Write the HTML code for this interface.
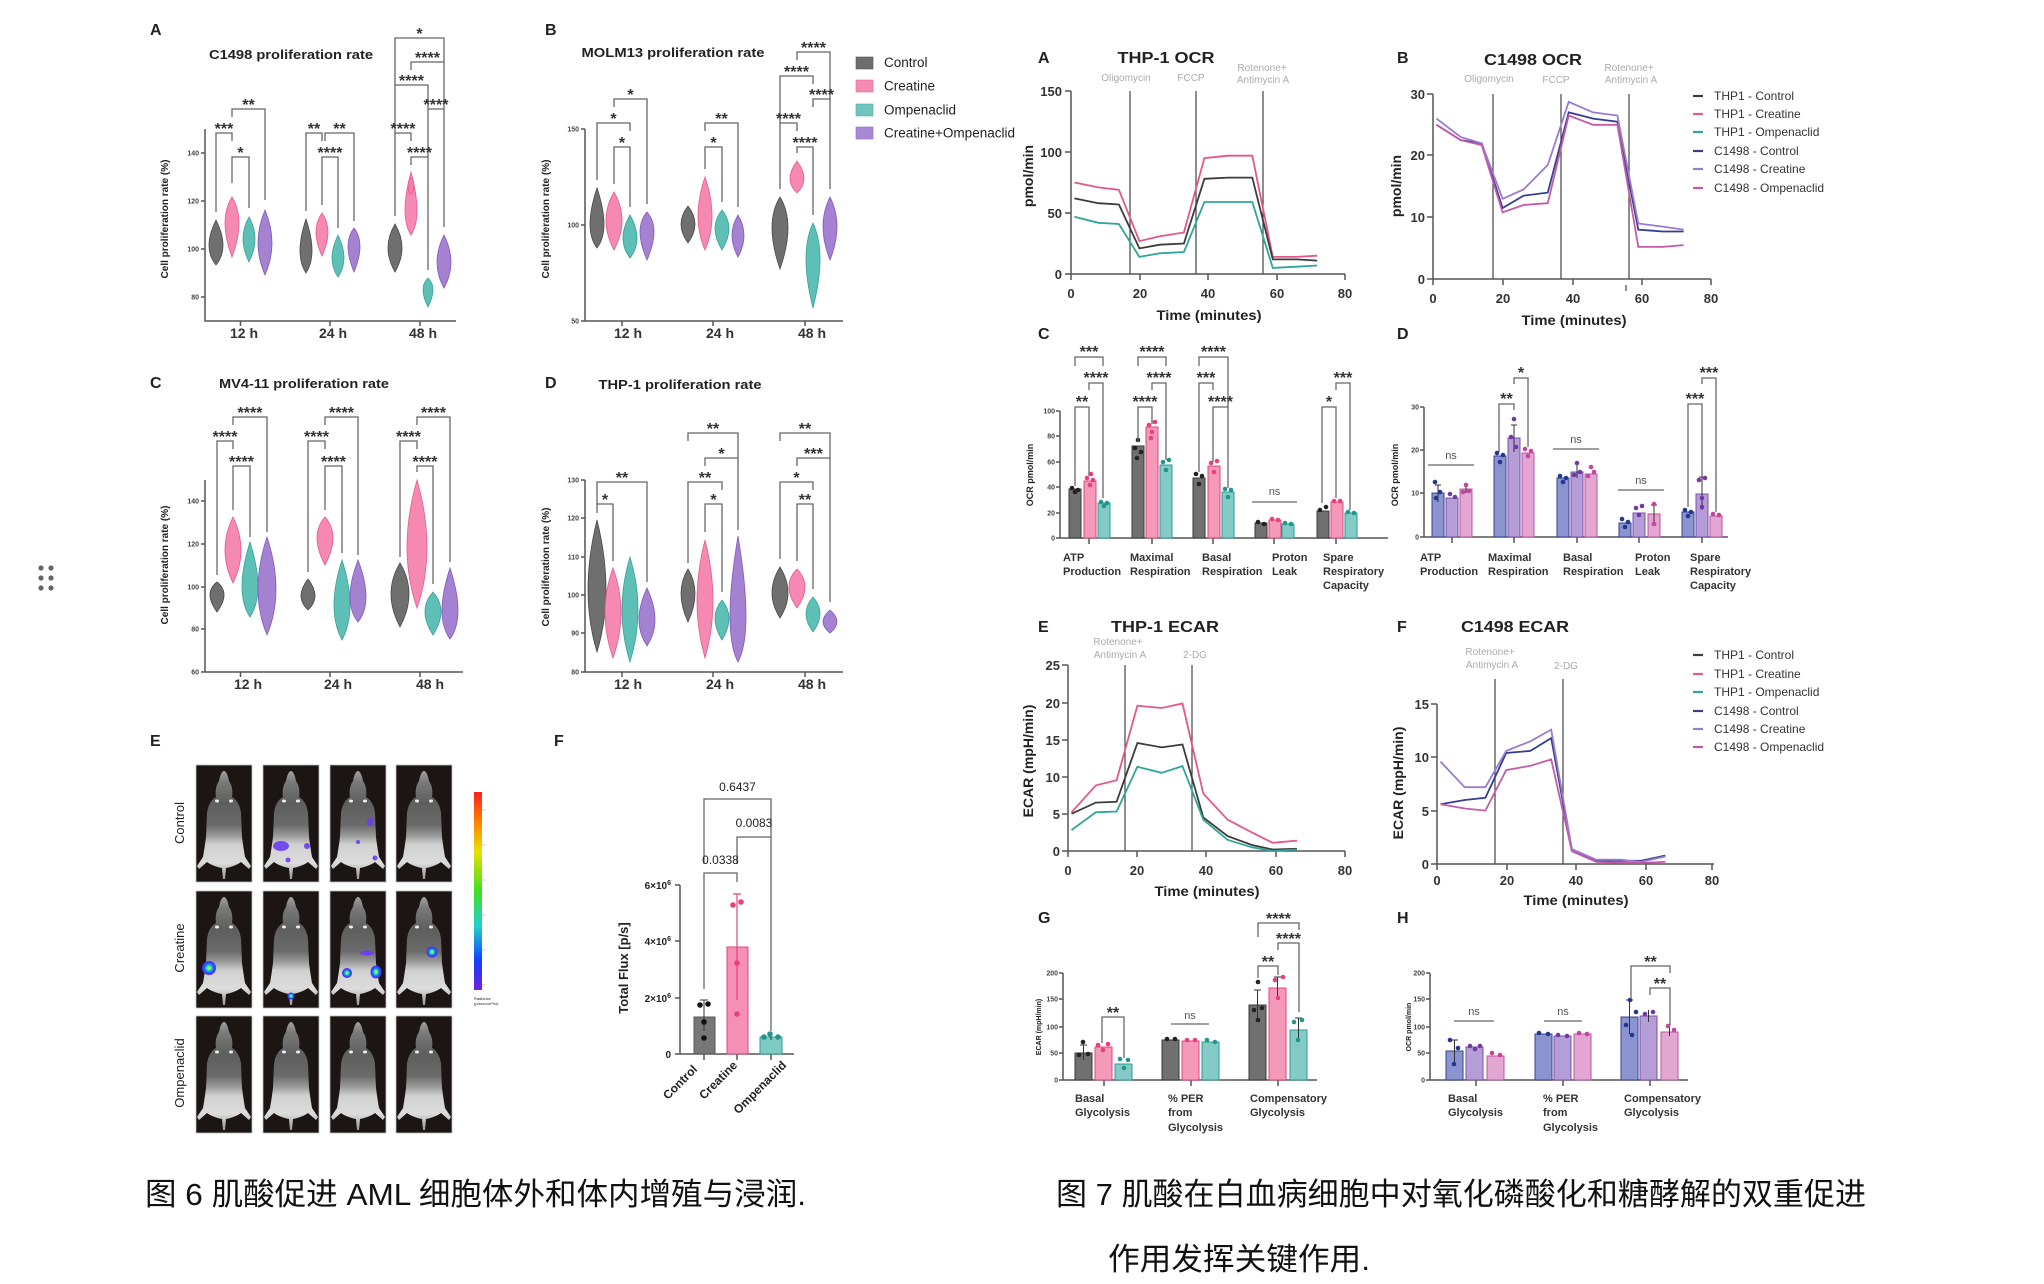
<!DOCTYPE html>
<html><head><meta charset="utf-8"><title>Figure</title>
<style>html,body{margin:0;padding:0;background:#fff;}svg{display:block}</style></head>
<body>
<svg xmlns="http://www.w3.org/2000/svg" xmlns:xlink="http://www.w3.org/1999/xlink" width="2044" height="1284" viewBox="0 0 2044 1284">
<style>
text{font-family:"Liberation Sans",Arial,"Noto Sans CJK SC",sans-serif;fill:#222}
.b{font-weight:bold}
.L{font-size:16px;font-weight:bold}
.s{font-size:16px;font-weight:bold;text-anchor:middle;fill:#333}
.ns{font-size:11px;text-anchor:middle;fill:#555}
.ax{stroke:#555;stroke-width:1.5;fill:none}
.br{stroke:#666;stroke-width:1.3;fill:none}
.tk{font-size:7px;font-weight:bold;text-anchor:end;fill:#444}
.tk2{font-size:13px;font-weight:bold;text-anchor:end;fill:#333}
.tx2{font-size:13px;font-weight:bold;text-anchor:middle;fill:#333}
.xl{font-size:14px;font-weight:bold;text-anchor:middle;fill:#333}
.an{font-size:10px;text-anchor:middle;fill:#aaa}
.lg{font-size:12px;fill:#333}
.bl{font-size:11px;font-weight:bold;fill:#333}
.cap{font-size:31px;fill:#111;font-family:"Liberation Sans","Noto Sans CJK SC",sans-serif}
.vc{fill:#5f5f5f;stroke:#4a4a4a;stroke-width:.8;fill-opacity:.9}
.vp{fill:#f57ca8;stroke:#e85a90;stroke-width:.8;fill-opacity:.9}
.vt{fill:#4db8ae;stroke:#34a399;stroke-width:.8;fill-opacity:.9}
.vu{fill:#9a74cc;stroke:#8259bb;stroke-width:.8;fill-opacity:.9}
.bc{fill:#707070;stroke:#3a3a3a;stroke-width:1}
.bp{fill:#f49ab8;stroke:#e0457f;stroke-width:1}
.bt{fill:#83cbc4;stroke:#2a9d94;stroke-width:1}
.b1{fill:#8b93d0;stroke:#3a428f;stroke-width:1}
.b2{fill:#b59dd8;stroke:#7b4fae;stroke-width:1}
.b3{fill:#e3a5d2;stroke:#b5569f;stroke-width:1}
.dc{fill:#222}.dp{fill:#e8407e}.dt{fill:#22958c}
.d1{fill:#22388f}.d2{fill:#6f3ba0}.d3{fill:#c0479b}
.eb{stroke:#333;stroke-width:1;fill:none}
</style>
<defs>
<linearGradient id="mg" x1="0" y1="0" x2="0" y2="1">
<stop offset="0" stop-color="#a0a0a0"/><stop offset=".1" stop-color="#7a7a7a"/><stop offset=".3" stop-color="#5e5e5e"/><stop offset=".5" stop-color="#6a6a6a"/><stop offset=".6" stop-color="#9a9a9a"/><stop offset=".68" stop-color="#d0d0d0"/><stop offset=".85" stop-color="#dcdcdc"/><stop offset=".95" stop-color="#b0b0b0"/><stop offset="1" stop-color="#999"/>
</linearGradient>
<radialGradient id="sp"><stop offset="0" stop-color="#e8ff40"/><stop offset=".35" stop-color="#20e0a0"/><stop offset=".65" stop-color="#1a60ff"/><stop offset="1" stop-color="#5a20ff"/></radialGradient>
<linearGradient id="cb" x1="0" y1="0" x2="0" y2="1">
<stop offset="0" stop-color="#ff2020"/><stop offset=".15" stop-color="#ff8000"/><stop offset=".3" stop-color="#e8e000"/><stop offset=".5" stop-color="#40e020"/><stop offset=".68" stop-color="#20d0d0"/><stop offset=".85" stop-color="#1040ff"/><stop offset="1" stop-color="#7020e0"/>
</linearGradient>
<g id="ms">
<rect width="56" height="117" fill="#1b1614" stroke="#bbb" stroke-width="0.8"/>
<path d="M28 6C30 6 32 10 33 16C36 20 37 26 36 32C41 35 44 40 45 48L46 72C47 80 48 86 49 92L55 101L53 104L45 97C41 100 35 102 30 103L29 114L27 114L26 103C21 102 15 100 11 97L3 104L1 101L7 92C8 86 9 80 10 72L11 48C12 40 15 35 20 32C19 26 20 20 23 16C24 10 26 6 28 6Z" fill="url(#mg)"/>
<ellipse cx="21" cy="36" rx="2" ry="1.5" fill="#eee"/><ellipse cx="35" cy="36" rx="2" ry="1.5" fill="#eee"/>
</g>
</defs>
<rect width="2044" height="1284" fill="#fff"/>

<!-- drag handle -->
<g fill="#666"><circle cx="41" cy="568" r="2.6"/><circle cx="51" cy="568" r="2.6"/><circle cx="41" cy="578" r="2.6"/><circle cx="51" cy="578" r="2.6"/><circle cx="41" cy="588" r="2.6"/><circle cx="51" cy="588" r="2.6"/></g>

<!-- ================= LEFT FIGURE ================= -->
<!-- Panel A -->
<text x="150" y="35" class="L">A</text>
<text x="291" y="59" class="b" font-size="13" text-anchor="middle" textLength="164" lengthAdjust="spacingAndGlyphs">C1498 proliferation rate</text>
<path class="ax" d="M205 129V321H456M201 153H205M201 201H205M201 249H205M201 297H205M240.5 321V326M330 321V326M420 321V326"/>
<text class="tk" x="199" y="155.5">140</text><text class="tk" x="199" y="203.5">120</text><text class="tk" x="199" y="251.5">100</text><text class="tk" x="199" y="299.5">80</text>
<text class="xl" x="244" y="338">12 h</text><text class="xl" x="333" y="338">24 h</text><text class="xl" x="423" y="338">48 h</text>
<text class="b" font-size="10" text-anchor="middle" transform="translate(168,219) rotate(-90)">Cell proliferation rate (%)</text>
<path class="vc" d="M216 220Q230 248 216 265Q202 248 216 220Z"/>
<path class="vp" d="M232 197Q246 220 232 257Q218 220 232 197Z"/>
<path class="vt" d="M249 217Q261 238 249 262Q237 238 249 217Z"/>
<path class="vu" d="M265 210Q279 243 265 275Q251 243 265 210Z"/>
<path class="vc" d="M306 219Q318 255 306 273Q294 255 306 219Z"/>
<path class="vp" d="M322 213Q334 230 322 256Q310 230 322 213Z"/>
<path class="vt" d="M338 235Q350 260 338 277Q326 260 338 235Z"/>
<path class="vu" d="M354 228Q366 243 354 272Q342 243 354 228Z"/>
<path class="vc" d="M395 224Q409 248 395 272Q381 248 395 224Z"/>
<path class="vp" d="M411 172Q423 217 411 235Q399 217 411 172Z"/><ellipse class="vp" cx="411" cy="186" rx="3" ry="8"/>
<path class="vt" d="M428 278Q438 287 428 307Q418 287 428 278Z"/>
<path class="vu" d="M444 235Q458 263 444 288Q430 263 444 235Z"/>
<path class="br" d="M216 212V133H232V141M232 183V157H249V208M232 117V109H265V200M306 211V133H322V141M325 141V133H354V221M322 205V157H338V228M395 216V38H444V227M411 70V62H444V70M395 93V85H428V270M428 117V109H444V117M395 141V133H411V141M411 165V157H428V165"/>
<text class="s" x="224" y="134">***</text><text class="s" x="240.5" y="158">*</text><text class="s" x="248.5" y="110">**</text>
<text class="s" x="314" y="134">**</text><text class="s" x="339.5" y="134">**</text><text class="s" x="330" y="158">****</text>
<text class="s" x="419.5" y="39">*</text><text class="s" x="427.5" y="63">****</text><text class="s" x="411.5" y="86">****</text><text class="s" x="436" y="110">****</text><text class="s" x="403" y="134">****</text><text class="s" x="419.5" y="158">****</text>

<!-- Panel B -->
<text x="545" y="35" class="L">B</text>
<text x="673" y="57" class="b" font-size="13" text-anchor="middle" textLength="183" lengthAdjust="spacingAndGlyphs">MOLM13 proliferation rate</text>
<path class="ax" d="M585 129V321H843M581 129H585M581 225H585M581 321H585M622 321V326M713 321V326M805 321V326"/>
<text class="tk" x="579" y="131.5">150</text><text class="tk" x="579" y="227.5">100</text><text class="tk" x="579" y="323.5">50</text>
<text class="xl" x="628" y="338">12 h</text><text class="xl" x="720" y="338">24 h</text><text class="xl" x="812" y="338">48 h</text>
<text class="b" font-size="10" text-anchor="middle" transform="translate(549,219) rotate(-90)">Cell proliferation rate (%)</text>
<path class="vc" d="M597 188Q611 230 597 248Q583 230 597 188Z"/>
<path class="vp" d="M614 192Q630 220 614 250Q598 220 614 192Z"/>
<path class="vt" d="M630 215Q644 240 630 258Q616 240 630 215Z"/>
<path class="vu" d="M647 212Q661 228 647 260Q633 228 647 212Z"/>
<path class="vc" d="M688 206Q702 224 688 243Q674 224 688 206Z"/>
<path class="vp" d="M705 177Q719 218 705 250Q691 218 705 177Z"/>
<path class="vt" d="M722 210Q736 227 722 250Q708 227 722 210Z"/>
<path class="vu" d="M738 215Q750 235 738 257Q726 235 738 215Z"/>
<path class="vc" d="M780 197Q796 223 780 269Q764 223 780 197Z"/>
<path class="vp" d="M797 161Q811 180 797 193Q783 180 797 161Z"/>
<path class="vt" d="M813 223Q827 253 813 308Q799 253 813 223Z"/>
<path class="vu" d="M830 197Q844 225 830 260Q816 225 830 197Z"/>
<path class="br" d="M614 107V99H647V204M597 180V123H630V131M614 184V147H630V207M705 131V123H738V207M705 169V147H722V202M797 60V52H830V189M780 189V76H813V84M813 107V99H830V107M780 131V123H797V131M797 153V147H813V215"/>
<text class="s" x="630.5" y="100">*</text><text class="s" x="613.5" y="124">*</text><text class="s" x="622" y="148">*</text>
<text class="s" x="721.5" y="124">**</text><text class="s" x="713.5" y="148">*</text>
<text class="s" x="813.5" y="53">****</text><text class="s" x="796.5" y="77">****</text><text class="s" x="821.5" y="100">****</text><text class="s" x="788.5" y="124">****</text><text class="s" x="805" y="148">****</text>

<!-- Legend left -->
<rect x="856" y="57" width="17" height="12" fill="#6d6d6d" stroke="#555" stroke-width=".6"/>
<rect x="856" y="80" width="17" height="12" fill="#f58bb3" stroke="#e8679a" stroke-width=".6"/>
<rect x="856" y="104" width="17" height="12" fill="#6fc5bd" stroke="#4bb0a7" stroke-width=".6"/>
<rect x="856" y="127" width="17" height="12" fill="#a88ad4" stroke="#8e6cc3" stroke-width=".6"/>
<text x="884" y="67" font-size="13.5" fill="#333">Control</text>
<text x="884" y="90.5" font-size="13.5" fill="#333">Creatine</text>
<text x="884" y="114.5" font-size="13.5" fill="#333">Ompenaclid</text>
<text x="884" y="137.5" font-size="13.5" fill="#333" textLength="131" lengthAdjust="spacingAndGlyphs">Creatine+Ompenaclid</text>

<!-- Panel C -->
<text x="150" y="388" class="L">C</text>
<text x="304" y="388" class="b" font-size="13" text-anchor="middle" textLength="170" lengthAdjust="spacingAndGlyphs">MV4-11 proliferation rate</text>
<path class="ax" d="M205 480V672H463M201 501H205M201 544H205M201 587H205M201 629H205M201 672H205M240.5 672V677M330 672V677M420 672V677"/>
<text class="tk" x="199" y="503.5">140</text><text class="tk" x="199" y="546.5">120</text><text class="tk" x="199" y="589.5">100</text><text class="tk" x="199" y="631.5">80</text><text class="tk" x="199" y="674.5">60</text>
<text class="xl" x="248" y="689">12 h</text><text class="xl" x="338" y="689">24 h</text><text class="xl" x="430" y="689">48 h</text>
<text class="b" font-size="10" text-anchor="middle" transform="translate(168,565) rotate(-90)">Cell proliferation rate (%)</text>
<path class="vc" d="M217 582Q231 593 217 612Q203 593 217 582Z"/>
<path class="vp" d="M233 517Q249 550 233 583Q217 550 233 517Z"/>
<path class="vt" d="M250 542Q266 593 250 617Q234 593 250 542Z"/>
<path class="vu" d="M267 537Q285 592 267 635Q249 592 267 537Z"/>
<path class="vc" d="M308 579Q322 597 308 610Q294 597 308 579Z"/>
<path class="vp" d="M325 517Q341 535 325 565Q309 535 325 517Z"/>
<path class="vt" d="M342 560Q358 610 342 640Q326 610 342 560Z"/>
<path class="vu" d="M358 560Q374 602 358 622Q342 602 358 560Z"/>
<path class="vc" d="M400 563Q418 593 400 627Q382 593 400 563Z"/>
<path class="vp" d="M417 480Q437 550 417 608Q397 550 417 480Z"/>
<path class="vt" d="M433 592Q449 610 433 635Q417 610 433 592Z"/>
<path class="vu" d="M450 568Q466 617 450 639Q434 617 450 568Z"/>
<path class="br" d="M233 425V417H267V532M217 575V441H233V449M233 510V466H250V537M325 425V417H358V555M308 572V441H325V449M325 510V466H342V553M417 425V417H450V562M400 557V441H417V449M417 472V466H433V584"/>
<text class="s" x="250" y="418">****</text><text class="s" x="225" y="442">****</text><text class="s" x="241.5" y="467">****</text>
<text class="s" x="341.5" y="418">****</text><text class="s" x="316.5" y="442">****</text><text class="s" x="333.5" y="467">****</text>
<text class="s" x="433.5" y="418">****</text><text class="s" x="408.5" y="442">****</text><text class="s" x="425" y="467">****</text>

<!-- Panel D -->
<text x="545" y="388" class="L">D</text>
<text x="680" y="389" class="b" font-size="13" text-anchor="middle" textLength="163" lengthAdjust="spacingAndGlyphs">THP-1 proliferation rate</text>
<path class="ax" d="M585 480V672H843M581 480H585M581 518H585M581 557H585M581 595H585M581 633H585M581 672H585M622 672V677M713 672V677M805 672V677"/>
<text class="tk" x="579" y="482.5">130</text><text class="tk" x="579" y="520.5">120</text><text class="tk" x="579" y="559.5">110</text><text class="tk" x="579" y="597.5">100</text><text class="tk" x="579" y="635.5">90</text><text class="tk" x="579" y="674.5">80</text>
<text class="xl" x="628" y="689">12 h</text><text class="xl" x="720" y="689">24 h</text><text class="xl" x="812" y="689">48 h</text>
<text class="b" font-size="10" text-anchor="middle" transform="translate(549,567) rotate(-90)">Cell proliferation rate (%)</text>
<path class="vc" d="M597 520Q615 593 597 652Q579 593 597 520Z"/>
<path class="vp" d="M613 568Q629 612 613 658Q597 612 613 568Z"/>
<path class="vt" d="M630 557Q646 610 630 662Q614 610 630 557Z"/>
<path class="vu" d="M647 588Q663 622 647 646Q631 622 647 588Z"/>
<path class="vc" d="M688 569Q702 592 688 622Q674 592 688 569Z"/>
<path class="vp" d="M705 540Q721 603 705 658Q689 603 705 540Z"/>
<path class="vt" d="M722 600Q736 617 722 640Q708 617 722 600Z"/>
<path class="vu" d="M738 536Q754 632 738 662Q722 632 738 536Z"/>
<path class="vc" d="M780 567Q796 593 780 618Q764 593 780 567Z"/>
<path class="vp" d="M797 569Q813 585 797 608Q781 585 797 569Z"/>
<path class="vt" d="M813 597Q827 613 813 632Q799 613 813 597Z"/>
<path class="vu" d="M830 610Q844 622 830 633Q816 622 830 610Z"/>
<path class="br" d="M597 513V482H647V582M597 512V504H613V561M688 441V433H738V530M705 466V458H738V466M688 563V482H722V490M705 532V504H722V592M780 441V433H830V602M797 466V458H830V466M780 559V482H813V490M797 561V504H813V589"/>
<text class="s" x="622" y="483">**</text><text class="s" x="605" y="505">*</text>
<text class="s" x="713" y="434">**</text><text class="s" x="721.5" y="459">*</text><text class="s" x="705" y="483">**</text><text class="s" x="713.5" y="505">*</text>
<text class="s" x="805" y="434">**</text><text class="s" x="813.5" y="459">***</text><text class="s" x="796.5" y="483">*</text><text class="s" x="805" y="505">**</text>

<!-- Panel E mice -->
<text x="150" y="746" class="L">E</text>
<text font-size="13" fill="#333" text-anchor="middle" transform="translate(184,823) rotate(-90)">Control</text>
<text font-size="13" fill="#333" text-anchor="middle" transform="translate(184,948) rotate(-90)">Creatine</text>
<text font-size="13" fill="#333" text-anchor="middle" transform="translate(184,1073) rotate(-90)">Ompenaclid</text>
<use xlink:href="#ms" x="196" y="765"/><use xlink:href="#ms" x="263" y="765"/><use xlink:href="#ms" x="330" y="765"/><use xlink:href="#ms" x="396" y="765"/>
<use xlink:href="#ms" x="196" y="891"/><use xlink:href="#ms" x="263" y="891"/><use xlink:href="#ms" x="330" y="891"/><use xlink:href="#ms" x="396" y="891"/>
<use xlink:href="#ms" x="196" y="1016"/><use xlink:href="#ms" x="263" y="1016"/><use xlink:href="#ms" x="330" y="1016"/><use xlink:href="#ms" x="396" y="1016"/>
<g fill="#6b3cf5" opacity=".9">
<ellipse cx="281" cy="846" rx="8" ry="5"/><circle cx="307" cy="846" r="3"/><circle cx="288" cy="860" r="2.5"/>
<ellipse cx="370" cy="822" rx="3" ry="4"/><circle cx="358" cy="842" r="2"/><circle cx="375" cy="858" r="2.5"/>
<ellipse cx="367" cy="953" rx="7" ry="2.5"/>
</g>
<circle cx="209" cy="968" r="7" fill="url(#sp)"/>
<circle cx="291" cy="996" r="3.5" fill="url(#sp)"/>
<circle cx="347" cy="973" r="5" fill="url(#sp)"/>
<ellipse cx="376" cy="972" rx="5.5" ry="6.5" fill="url(#sp)"/>
<circle cx="432" cy="952" r="5.5" fill="url(#sp)"/>
<rect x="474" y="792" width="8" height="198" fill="url(#cb)"/>
<path d="M482 810H485M482 845H485M482 880H485M482 915H485M482 950H485M482 985H485" stroke="#888" stroke-width=".6"/>
<text x="474" y="1000" font-size="4" fill="#666">Radiance</text><text x="474" y="1005" font-size="4" fill="#666">(p/sec/cm²/sr)</text>

<!-- Panel F bar -->
<text x="554" y="746" class="L">F</text>
<path class="ax" d="M680 885V1054H794M675 885H680M675 941H680M675 998H680M675 1054H680M704 1054V1060M737 1054V1060M771 1054V1060"/>
<text x="671" y="889" font-size="10" class="b" text-anchor="end" fill="#333">6×10<tspan dy="-4" font-size="7">6</tspan></text>
<text x="671" y="945" font-size="10" class="b" text-anchor="end" fill="#333">4×10<tspan dy="-4" font-size="7">6</tspan></text>
<text x="671" y="1002" font-size="10" class="b" text-anchor="end" fill="#333">2×10<tspan dy="-4" font-size="7">6</tspan></text>
<text x="671" y="1058" font-size="10" class="b" text-anchor="end" fill="#333">0</text>
<text class="b" font-size="13" text-anchor="middle" fill="#333" transform="translate(628,968) rotate(-90)">Total Flux  [p/s]</text>
<rect x="694" y="1017" width="21" height="37" fill="#777" stroke="#555"/>
<rect x="727" y="947" width="21" height="107" fill="#f48fb5" stroke="#e0457f"/>
<rect x="760" y="1037" width="22" height="17" fill="#7ecbc3" stroke="#2aa198"/>
<path d="M704 1000V1031M700 1000H708M737 894V1000M733 894H741M771 1033V1040" stroke="#333" stroke-width="1" fill="none"/>
<path d="M737 894V1000M733 894H741" stroke="#e0457f" stroke-width="1.2" fill="none"/>
<circle cx="700" cy="1005" r="2.8" fill="#111"/><circle cx="708" cy="1004" r="2.8" fill="#111"/><circle cx="704" cy="1038" r="2.8" fill="#111"/><circle cx="704" cy="1022" r="2.8" fill="#111"/>
<circle cx="733" cy="905" r="2.8" fill="#e8407e"/><circle cx="741" cy="902" r="2.8" fill="#e8407e"/><circle cx="737" cy="963" r="2.8" fill="#e8407e"/><circle cx="737" cy="1014" r="2.8" fill="#e8407e"/>
<circle cx="764" cy="1037" r="2.8" fill="#22958c"/><circle cx="770" cy="1034" r="2.8" fill="#22958c"/><circle cx="778" cy="1037" r="2.8" fill="#22958c"/>
<path class="br" d="M704 864V799H771V837M704 989V873H737V882M737 864V837H771V1031"/>
<text x="737.5" y="791" font-size="12" text-anchor="middle" fill="#333">0.6437</text>
<text x="720.5" y="864" font-size="12" text-anchor="middle" fill="#333">0.0338</text>
<text x="754" y="827" font-size="12" text-anchor="middle" fill="#333">0.0083</text>
<text class="b" font-size="12" text-anchor="end" fill="#333" transform="translate(698,1070) rotate(-45)">Control</text>
<text class="b" font-size="12" text-anchor="end" fill="#333" transform="translate(738,1066) rotate(-45)">Creatine</text>
<text class="b" font-size="12" text-anchor="end" fill="#333" transform="translate(787,1066) rotate(-45)">Ompenaclid</text>

<!-- caption left -->
<text class="cap" x="145" y="1205" textLength="661" lengthAdjust="spacingAndGlyphs">图 6 肌酸促进 AML 细胞体外和体内增殖与浸润.</text>

<!-- ================= RIGHT FIGURE ================= -->
<!-- OCR A -->
<text x="1038" y="63" class="L">A</text>
<text x="1166" y="63" class="b" font-size="16" text-anchor="middle" textLength="97" lengthAdjust="spacingAndGlyphs">THP-1   OCR</text>
<text class="an" x="1126" y="81">Oligomycin</text><text class="an" x="1191" y="81">FCCP</text><text class="an" x="1262" y="71">Rotenone+</text><text class="an" x="1263" y="83">Antimycin A</text>
<path d="M1130 91V274M1196 91V274M1263 91V274" stroke="#444" stroke-width="1.2"/>
<path class="ax" d="M1071 91V274H1345M1065 91H1071M1065 152H1071M1065 213H1071M1065 274H1071M1071 274V280M1140 274V280M1208 274V280M1277 274V280M1345 274V280"/>
<text class="tk2" x="1062" y="96">150</text><text class="tk2" x="1062" y="157">100</text><text class="tk2" x="1062" y="218">50</text><text class="tk2" x="1062" y="279">0</text>
<text class="tx2" x="1071" y="298">0</text><text class="tx2" x="1140" y="298">20</text><text class="tx2" x="1208" y="298">40</text><text class="tx2" x="1277" y="298">60</text><text class="tx2" x="1345" y="298">80</text>
<text class="b" font-size="14" text-anchor="middle" x="1209" y="320" textLength="105" lengthAdjust="spacingAndGlyphs">Time (minutes)</text>
<text class="b" font-size="14" text-anchor="middle" transform="translate(1033,176) rotate(-90)">pmol/min</text>
<g fill="none" stroke-width="1.8">
<polyline stroke="#e5578a" points="1074.4,182.5 1098.4,187.4 1118.9,189.8 1139.4,241.1 1159.9,236.2 1183.9,232.5 1204.4,158.1 1228.3,155.7 1252.3,155.7 1272.8,256.9 1296.7,256.9 1317.2,255.7"/>
<polyline stroke="#3c3c3c" points="1074.4,198.4 1098.4,203.2 1118.9,204.5 1139.4,248.4 1159.9,244.7 1183.9,243.5 1204.4,178.8 1228.3,177.6 1252.3,177.6 1272.8,259.4 1296.7,259.4 1317.2,260.6"/>
<polyline stroke="#2ea69b" points="1074.4,216.7 1098.4,222.8 1118.9,224 1139.4,256.9 1159.9,253.3 1183.9,252 1204.4,202 1228.3,202 1252.3,202 1272.8,267.9 1296.7,266.7 1317.2,265.5"/>
</g>

<!-- OCR B -->
<text x="1397" y="63" class="L">B</text>
<text x="1533" y="65" class="b" font-size="16" text-anchor="middle" textLength="98" lengthAdjust="spacingAndGlyphs">C1498   OCR</text>
<text class="an" x="1489" y="82">Oligomycin</text><text class="an" x="1556" y="83">FCCP</text><text class="an" x="1629" y="71">Rotenone+</text><text class="an" x="1631" y="83">Antimycin A</text>
<path d="M1493 94V279M1561 94V279M1629 94V279M1626 285V291" stroke="#444" stroke-width="1.2"/>
<path class="ax" d="M1433 94V279H1711M1427 94H1433M1427 155H1433M1427 217H1433M1427 279H1433M1433 279V285M1503 279V285M1573 279V285M1642 279V285M1711 279V285"/>
<text class="tk2" x="1425" y="99">30</text><text class="tk2" x="1425" y="160">20</text><text class="tk2" x="1425" y="222">10</text><text class="tk2" x="1425" y="284">0</text>
<text class="tx2" x="1433" y="303">0</text><text class="tx2" x="1503" y="303">20</text><text class="tx2" x="1573" y="303">40</text><text class="tx2" x="1642" y="303">60</text><text class="tx2" x="1711" y="303">80</text>
<text class="b" font-size="14" text-anchor="middle" x="1574" y="325" textLength="105" lengthAdjust="spacingAndGlyphs">Time (minutes)</text>
<text class="b" font-size="14" text-anchor="middle" transform="translate(1401,186) rotate(-90)">pmol/min</text>
<g fill="none" stroke-width="1.8">
<polyline stroke="#353f8f" points="1436.5,124.8 1460.8,140.2 1481.7,143.3 1502.6,208 1523.5,195.7 1547.8,192.6 1568.7,112.4 1593.1,118.6 1617.4,121.7 1638.3,229.6 1662.7,231.5 1683.6,231.5"/>
<polyline stroke="#9a7ccf" points="1436.5,118.6 1460.8,137.1 1481.7,143.3 1502.6,198.8 1523.5,189.5 1547.8,164.9 1568.7,101.9 1593.1,112.4 1617.4,115.5 1638.3,223.5 1662.7,226.6 1683.6,229.6"/>
<polyline stroke="#c45aa8" points="1436.5,124.8 1460.8,140.2 1481.7,145.1 1502.6,212.4 1523.5,205 1547.8,203.1 1568.7,115.5 1593.1,124.8 1617.4,124.8 1638.3,246.9 1662.7,246.9 1683.6,245.1"/>
</g>
<!-- legend OCR -->
<g stroke-width="2.2">
<path d="M1693 96H1703" stroke="#3c3c3c"/><path d="M1693 114H1703" stroke="#e5578a"/><path d="M1693 132H1703" stroke="#2ea69b"/>
<path d="M1693 151H1703" stroke="#353f8f"/><path d="M1693 169H1703" stroke="#9a7ccf"/><path d="M1693 188H1703" stroke="#c45aa8"/>
</g>
<text class="lg" x="1714" y="100">THP1 - Control</text><text class="lg" x="1714" y="118">THP1 - Creatine</text><text class="lg" x="1714" y="136">THP1 - Ompenaclid</text>
<text class="lg" x="1714" y="155">C1498 - Control</text><text class="lg" x="1714" y="173">C1498 - Creatine</text><text class="lg" x="1714" y="192">C1498 - Ompenaclid</text>

<!-- OCR C bars -->
<text x="1038" y="339" class="L">C</text>
<path class="ax" d="M1060 411V538H1388M1056 411H1060M1056 436H1060M1056 462H1060M1056 487H1060M1056 513H1060M1056 538H1060M1089 538V544M1152 538V544M1213 538V544M1274 538V544M1336 538V544"/>
<text class="tk" x="1055" y="413.5" font-size="8">100</text><text class="tk" x="1055" y="438.5" font-size="8">80</text><text class="tk" x="1055" y="464.5" font-size="8">60</text><text class="tk" x="1055" y="489.5" font-size="8">40</text><text class="tk" x="1055" y="515.5" font-size="8">20</text><text class="tk" x="1055" y="540.5" font-size="8">0</text>
<text class="b" font-size="9" text-anchor="middle" transform="translate(1033,475) rotate(-90)">OCR  pmol/min</text>
<rect class="bc" x="1069" y="489" width="12" height="49"/><rect class="bp" x="1084" y="481" width="12" height="57"/><rect class="bt" x="1098" y="503" width="12" height="35"/>
<rect class="bc" x="1132" y="446" width="12" height="92"/><rect class="bp" x="1146" y="427" width="12" height="111"/><rect class="bt" x="1160" y="465" width="12" height="73"/>
<rect class="bc" x="1193" y="478" width="12" height="60"/><rect class="bp" x="1208" y="466" width="12" height="72"/><rect class="bt" x="1222" y="492" width="12" height="46"/>
<rect class="bc" x="1255" y="523" width="12" height="15"/><rect class="bp" x="1269" y="520" width="12" height="18"/><rect class="bt" x="1282" y="524" width="12" height="14"/>
<rect class="bc" x="1317" y="511" width="12" height="27"/><rect class="bp" x="1331" y="502" width="12" height="36"/><rect class="bt" x="1345" y="513" width="12" height="25"/>
<g>
<circle class="dc" cx="1072" cy="488" r="2.3"/><circle class="dc" cx="1078" cy="490" r="2.3"/><circle class="dc" cx="1075" cy="492" r="2.3"/>
<circle class="dp" cx="1087" cy="478" r="2.3"/><circle class="dp" cx="1093" cy="480" r="2.3"/><circle class="dp" cx="1090" cy="485" r="2.3"/><circle class="dp" cx="1091" cy="474" r="2.3"/>
<circle class="dt" cx="1101" cy="502" r="2.3"/><circle class="dt" cx="1107" cy="503" r="2.3"/><circle class="dt" cx="1104" cy="506" r="2.3"/>
<circle class="dc" cx="1138" cy="440" r="2.3"/><circle class="dc" cx="1135" cy="448" r="2.3"/><circle class="dc" cx="1141" cy="452" r="2.3"/><circle class="dc" cx="1137" cy="458" r="2.3"/>
<circle class="dp" cx="1149" cy="425" r="2.3"/><circle class="dp" cx="1155" cy="422" r="2.3"/><circle class="dp" cx="1152" cy="432" r="2.3"/><circle class="dp" cx="1151" cy="438" r="2.3"/>
<circle class="dt" cx="1163" cy="462" r="2.3"/><circle class="dt" cx="1169" cy="460" r="2.3"/><circle class="dt" cx="1166" cy="470" r="2.3"/>
<circle class="dc" cx="1196" cy="474" r="2.3"/><circle class="dc" cx="1202" cy="476" r="2.3"/><circle class="dc" cx="1199" cy="484" r="2.3"/>
<circle class="dp" cx="1211" cy="463" r="2.3"/><circle class="dp" cx="1217" cy="461" r="2.3"/><circle class="dp" cx="1214" cy="472" r="2.3"/>
<circle class="dt" cx="1225" cy="489" r="2.3"/><circle class="dt" cx="1231" cy="490" r="2.3"/><circle class="dt" cx="1228" cy="497" r="2.3"/>
<circle class="dc" cx="1258" cy="522" r="2.3"/><circle class="dc" cx="1264" cy="524" r="2.3"/><circle class="dp" cx="1272" cy="519" r="2.3"/><circle class="dp" cx="1278" cy="520" r="2.3"/><circle class="dt" cx="1285" cy="523" r="2.3"/><circle class="dt" cx="1291" cy="524" r="2.3"/>
<circle class="dc" cx="1320" cy="510" r="2.3"/><circle class="dc" cx="1326" cy="507" r="2.3"/><circle class="dp" cx="1334" cy="501" r="2.3"/><circle class="dp" cx="1340" cy="501" r="2.3"/><circle class="dt" cx="1348" cy="512" r="2.3"/><circle class="dt" cx="1354" cy="513" r="2.3"/>
</g>
<path class="br" d="M1075 366V357H1103V366M1089 390V383H1103V498M1075 486V407H1089V476M1138 366V357H1166V366M1152 390V383H1166V460M1138 442V407H1152V424M1199 366V357H1228V488M1199 472V383H1213V390M1213 462V407H1228V488M1322 503V407H1336V498M1336 390V383H1350V510M1252 502H1297"/>
<text class="s" x="1089" y="357">***</text><text class="s" x="1096" y="383">****</text><text class="s" x="1082" y="407">**</text>
<text class="s" x="1152" y="357">****</text><text class="s" x="1159" y="383">****</text><text class="s" x="1145" y="407">****</text>
<text class="s" x="1213.5" y="357">****</text><text class="s" x="1206" y="383">***</text><text class="s" x="1220.5" y="407">****</text>
<text class="s" x="1329" y="407">*</text><text class="s" x="1343" y="383">***</text>
<text class="ns" x="1274.5" y="495">ns</text>
<text class="bl" x="1063" y="561">ATP</text><text class="bl" x="1063" y="575">Production</text>
<text class="bl" x="1130" y="561">Maximal</text><text class="bl" x="1130" y="575">Respiration</text>
<text class="bl" x="1202" y="561">Basal</text><text class="bl" x="1202" y="575">Respiration</text>
<text class="bl" x="1272" y="561">Proton</text><text class="bl" x="1272" y="575">Leak</text>
<text class="bl" x="1323" y="561">Spare</text><text class="bl" x="1323" y="575">Respiratory</text><text class="bl" x="1323" y="589">Capacity</text>

<!-- OCR D bars -->
<text x="1397" y="339" class="L">D</text>
<path class="ax" d="M1424 407V537H1728M1420 407H1424M1420 450H1424M1420 493H1424M1420 537H1424M1452 537V543M1514 537V543M1577 537V543M1639 537V543M1702 537V543"/>
<text class="tk" x="1419" y="409.5" font-size="8">30</text><text class="tk" x="1419" y="452.5" font-size="8">20</text><text class="tk" x="1419" y="495.5" font-size="8">10</text><text class="tk" x="1419" y="539.5" font-size="8">0</text>
<text class="b" font-size="9" text-anchor="middle" transform="translate(1398,475) rotate(-90)">OCR  pmol/min</text>
<rect class="b1" x="1432" y="493" width="12" height="44"/><rect class="b2" x="1446" y="498" width="12" height="39"/><rect class="b3" x="1460" y="489" width="12" height="48"/>
<rect class="b1" x="1494" y="456" width="12" height="81"/><rect class="b2" x="1508" y="438" width="12" height="99"/><rect class="b3" x="1522" y="453" width="12" height="84"/>
<rect class="b1" x="1557" y="478" width="12" height="59"/><rect class="b2" x="1571" y="472" width="12" height="65"/><rect class="b3" x="1585" y="474" width="12" height="63"/>
<rect class="b1" x="1619" y="523" width="12" height="14"/><rect class="b2" x="1633" y="513" width="12" height="24"/><rect class="b3" x="1648" y="514" width="12" height="23"/>
<rect class="b1" x="1682" y="512" width="12" height="25"/><rect class="b2" x="1696" y="494" width="12" height="43"/><rect class="b3" x="1710" y="516" width="12" height="21"/>
<path class="eb" d="M1438 485V502M1435 485H1441M1514 425V452M1511 425H1517M1702 477V510M1699 477H1705M1654 505V523M1651 505H1657M1466 484V493M1577 464V478"/>
<g>
<circle class="d1" cx="1435" cy="482" r="2.3"/><circle class="d1" cx="1440" cy="492" r="2.3"/><circle class="d1" cx="1436" cy="498" r="2.3"/>
<circle class="d2" cx="1450" cy="494" r="2.3"/><circle class="d2" cx="1455" cy="497" r="2.3"/>
<circle class="d3" cx="1466" cy="485" r="2.3"/><circle class="d3" cx="1463" cy="492" r="2.3"/><circle class="d3" cx="1469" cy="491" r="2.3"/>
<circle class="d1" cx="1497" cy="453" r="2.3"/><circle class="d1" cx="1503" cy="455" r="2.3"/><circle class="d1" cx="1500" cy="462" r="2.3"/>
<circle class="d2" cx="1514" cy="419" r="2.3"/><circle class="d2" cx="1511" cy="437" r="2.3"/><circle class="d2" cx="1516" cy="447" r="2.3"/>
<circle class="d3" cx="1525" cy="449" r="2.3"/><circle class="d3" cx="1531" cy="451" r="2.3"/><circle class="d3" cx="1528" cy="456" r="2.3"/>
<circle class="d1" cx="1560" cy="476" r="2.3"/><circle class="d1" cx="1566" cy="478" r="2.3"/><circle class="d1" cx="1563" cy="482" r="2.3"/>
<circle class="d2" cx="1577" cy="463" r="2.3"/><circle class="d2" cx="1574" cy="475" r="2.3"/><circle class="d2" cx="1580" cy="472" r="2.3"/>
<circle class="d3" cx="1591" cy="467" r="2.3"/><circle class="d3" cx="1588" cy="476" r="2.3"/><circle class="d3" cx="1594" cy="472" r="2.3"/>
<circle class="d1" cx="1622" cy="519" r="2.3"/><circle class="d1" cx="1628" cy="522" r="2.3"/><circle class="d1" cx="1625" cy="527" r="2.3"/>
<circle class="d2" cx="1636" cy="508" r="2.3"/><circle class="d2" cx="1642" cy="506" r="2.3"/><circle class="d2" cx="1639" cy="515" r="2.3"/>
<circle class="d3" cx="1654" cy="504" r="2.3"/><circle class="d3" cx="1654" cy="524" r="2.3"/>
<circle class="d1" cx="1685" cy="510" r="2.3"/><circle class="d1" cx="1691" cy="512" r="2.3"/><circle class="d1" cx="1688" cy="516" r="2.3"/>
<circle class="d2" cx="1699" cy="480" r="2.3"/><circle class="d2" cx="1705" cy="478" r="2.3"/><circle class="d2" cx="1702" cy="498" r="2.3"/><circle class="d2" cx="1702" cy="507" r="2.3"/>
<circle class="d3" cx="1713" cy="514" r="2.3"/><circle class="d3" cx="1719" cy="515" r="2.3"/>
</g>
<path class="br" d="M1428 465H1474M1499 452V404H1514V410M1514 384V378H1528V447M1553 449H1599M1618 490H1664M1688 507V404H1702V477M1702 384V378H1716V512"/>
<text class="ns" x="1451" y="459">ns</text><text class="ns" x="1576" y="443">ns</text><text class="ns" x="1641" y="484">ns</text>
<text class="s" x="1506.5" y="404">**</text><text class="s" x="1521" y="378">*</text><text class="s" x="1695" y="404">***</text><text class="s" x="1709" y="378">***</text>
<text class="bl" x="1420" y="561">ATP</text><text class="bl" x="1420" y="575">Production</text>
<text class="bl" x="1488" y="561">Maximal</text><text class="bl" x="1488" y="575">Respiration</text>
<text class="bl" x="1563" y="561">Basal</text><text class="bl" x="1563" y="575">Respiration</text>
<text class="bl" x="1635" y="561">Proton</text><text class="bl" x="1635" y="575">Leak</text>
<text class="bl" x="1690" y="561">Spare</text><text class="bl" x="1690" y="575">Respiratory</text><text class="bl" x="1690" y="589">Capacity</text>

<!-- ECAR E -->
<text x="1038" y="632" class="L">E</text>
<text x="1165" y="632" class="b" font-size="16" text-anchor="middle" textLength="108" lengthAdjust="spacingAndGlyphs">THP-1   ECAR</text>
<text class="an" x="1118" y="645">Rotenone+</text><text class="an" x="1120" y="658">Antimycin A</text><text class="an" x="1195" y="658">2-DG</text>
<path d="M1125 665V851M1192 665V851" stroke="#444" stroke-width="1.2"/>
<path class="ax" d="M1068 665V851H1345M1062 665H1068M1062 703H1068M1062 740H1068M1062 777H1068M1062 814H1068M1062 851H1068M1068 851V857M1137 851V857M1206 851V857M1276 851V857M1345 851V857"/>
<text class="tk2" x="1060" y="670">25</text><text class="tk2" x="1060" y="708">20</text><text class="tk2" x="1060" y="745">15</text><text class="tk2" x="1060" y="782">10</text><text class="tk2" x="1060" y="819">5</text><text class="tk2" x="1060" y="856">0</text>
<text class="tx2" x="1068" y="875">0</text><text class="tx2" x="1137" y="875">20</text><text class="tx2" x="1206" y="875">40</text><text class="tx2" x="1276" y="875">60</text><text class="tx2" x="1345" y="875">80</text>
<text class="b" font-size="14" text-anchor="middle" x="1207" y="896" textLength="105" lengthAdjust="spacingAndGlyphs">Time (minutes)</text>
<text class="b" font-size="14" text-anchor="middle" transform="translate(1033,761) rotate(-90)">ECAR (mpH/min)</text>
<g fill="none" stroke-width="1.8">
<polyline stroke="#e5578a" points="1071.5,812.3 1095.8,785.4 1116.6,780.2 1137.4,705.7 1161.7,708 1182.5,703.5 1203.3,793.6 1227.6,819.7 1251.9,832.4 1272.7,842.8 1297,840.6"/>
<polyline stroke="#3c3c3c" points="1071.5,813.8 1095.8,802.6 1116.6,801.8 1137.4,743 1161.7,747.4 1182.5,744.5 1203.3,817.5 1227.6,836.1 1251.9,845 1272.7,849.5 1297,848.8"/>
<polyline stroke="#2ea69b" points="1071.5,830.1 1095.8,812.3 1116.6,811.5 1137.4,766.8 1161.7,772.8 1182.5,766.1 1203.3,819.7 1227.6,839.8 1251.9,847.3 1272.7,851 1297,849.5"/>
</g>

<!-- ECAR F -->
<text x="1397" y="632" class="L">F</text>
<text x="1515" y="632" class="b" font-size="16" text-anchor="middle" textLength="108" lengthAdjust="spacingAndGlyphs">C1498   ECAR</text>
<text class="an" x="1490" y="655">Rotenone+</text><text class="an" x="1492" y="668">Antimycin A</text><text class="an" x="1566" y="669">2-DG</text>
<path d="M1495 679V864M1563 679V864" stroke="#444" stroke-width="1.2"/>
<path class="ax" d="M1437 704V864H1714M1431 704H1437M1431 757H1437M1431 811H1437M1431 864H1437M1437 864V870M1507 864V870M1576 864V870M1646 864V870M1712 864V870"/>
<text class="tk2" x="1429" y="709">15</text><text class="tk2" x="1429" y="762">10</text><text class="tk2" x="1429" y="816">5</text><text class="tk2" x="1429" y="869">0</text>
<text class="tx2" x="1437" y="885">0</text><text class="tx2" x="1507" y="885">20</text><text class="tx2" x="1576" y="885">40</text><text class="tx2" x="1646" y="885">60</text><text class="tx2" x="1712" y="885">80</text>
<text class="b" font-size="14" text-anchor="middle" x="1576" y="905" textLength="105" lengthAdjust="spacingAndGlyphs">Time (minutes)</text>
<text class="b" font-size="14" text-anchor="middle" transform="translate(1403,783) rotate(-90)">ECAR (mpH/min)</text>
<g fill="none" stroke-width="1.8">
<polyline stroke="#353f8f" points="1440.5,804.2 1464.7,800 1485.4,797.8 1506.2,753 1530.4,750.9 1551.2,738.1 1571.9,851.2 1596.2,860.8 1620.4,860.8 1641.1,860.8 1665.4,855.5"/>
<polyline stroke="#9a7ccf" points="1440.5,761.6 1464.7,787.2 1485.4,787.2 1506.2,750.9 1530.4,741.3 1551.2,729.6 1571.9,849.1 1596.2,859.7 1620.4,859.7 1641.1,861.9 1665.4,856.5"/>
<polyline stroke="#c45aa8" points="1440.5,804.2 1464.7,808.5 1485.4,810.6 1506.2,770.1 1530.4,765.8 1551.2,759.4 1571.9,851.2 1596.2,861.9 1620.4,862.9 1641.1,862.9 1665.4,861.9"/>
</g>
<g stroke-width="2.2">
<path d="M1693 655H1703" stroke="#3c3c3c"/><path d="M1693 674H1703" stroke="#e5578a"/><path d="M1693 692H1703" stroke="#2ea69b"/>
<path d="M1693 711H1703" stroke="#353f8f"/><path d="M1693 729H1703" stroke="#9a7ccf"/><path d="M1693 747H1703" stroke="#c45aa8"/>
</g>
<text class="lg" x="1714" y="659">THP1 - Control</text><text class="lg" x="1714" y="678">THP1 - Creatine</text><text class="lg" x="1714" y="696">THP1 - Ompenaclid</text>
<text class="lg" x="1714" y="715">C1498 - Control</text><text class="lg" x="1714" y="733">C1498 - Creatine</text><text class="lg" x="1714" y="751">C1498 - Ompenaclid</text>

<!-- G bars -->
<text x="1038" y="923" class="L">G</text>
<path class="ax" d="M1063 973V1080H1317M1059 973H1063M1059 999H1063M1059 1027H1063M1059 1053H1063M1059 1080H1063M1104 1080V1086M1191 1080V1086M1278 1080V1086"/>
<text class="tk" x="1058" y="975.5">200</text><text class="tk" x="1058" y="1001.5">150</text><text class="tk" x="1058" y="1029.5">100</text><text class="tk" x="1058" y="1055.5">50</text><text class="tk" x="1058" y="1082.5">0</text>
<text class="b" font-size="7" text-anchor="middle" transform="translate(1041,1027) rotate(-90)">ECAR (mpH/min)</text>
<rect class="bc" x="1075" y="1053" width="17" height="27"/><rect class="bp" x="1095" y="1047" width="17" height="33"/><rect class="bt" x="1115" y="1064" width="17" height="16"/>
<rect class="bc" x="1162" y="1040" width="17" height="40"/><rect class="bp" x="1182" y="1041" width="17" height="39"/><rect class="bt" x="1202" y="1042" width="17" height="38"/>
<rect class="bc" x="1249" y="1005" width="17" height="75"/><rect class="bp" x="1269" y="988" width="17" height="92"/><rect class="bt" x="1290" y="1030" width="17" height="50"/>
<path class="eb" d="M1083.5 1045V1060M1080 1045H1087M1257.5 990V1020M1254 990H1261M1277.5 977V1000M1274 977H1281M1298.5 1018V1042M1295 1018H1302"/>
<g>
<circle class="dc" cx="1083" cy="1042" r="2.3"/><circle class="dc" cx="1079" cy="1055" r="2.3"/><circle class="dc" cx="1088" cy="1054" r="2.3"/>
<circle class="dp" cx="1098" cy="1045" r="2.3"/><circle class="dp" cx="1108" cy="1044" r="2.3"/><circle class="dp" cx="1103" cy="1050" r="2.3"/>
<circle class="dt" cx="1120" cy="1059" r="2.3"/><circle class="dt" cx="1128" cy="1060" r="2.3"/><circle class="dt" cx="1124" cy="1068" r="2.3"/>
<circle class="dc" cx="1167" cy="1039" r="2.3"/><circle class="dc" cx="1175" cy="1039" r="2.3"/><circle class="dp" cx="1187" cy="1040" r="2.3"/><circle class="dp" cx="1195" cy="1040" r="2.3"/><circle class="dt" cx="1207" cy="1040" r="2.3"/><circle class="dt" cx="1215" cy="1042" r="2.3"/>
<circle class="dc" cx="1258" cy="982" r="2.3"/><circle class="dc" cx="1254" cy="1010" r="2.3"/><circle class="dc" cx="1262" cy="1008" r="2.3"/><circle class="dc" cx="1258" cy="1020" r="2.3"/>
<circle class="dp" cx="1275" cy="980" r="2.3"/><circle class="dp" cx="1283" cy="977" r="2.3"/><circle class="dp" cx="1278" cy="998" r="2.3"/>
<circle class="dt" cx="1294" cy="1022" r="2.3"/><circle class="dt" cx="1302" cy="1020" r="2.3"/><circle class="dt" cx="1298" cy="1040" r="2.3"/>
</g>
<path class="br" d="M1102 1043V1017H1124V1058M1171 1024H1209M1258 937V923H1299V930M1278 950V943H1299V1012M1258 978V966H1278V975"/>
<text class="s" x="1113" y="1018">**</text><text class="ns" x="1190" y="1019">ns</text>
<text class="s" x="1278.5" y="924">****</text><text class="s" x="1288.5" y="944">****</text><text class="s" x="1268" y="967">**</text>
<text class="bl" x="1075" y="1102" font-size="11.5">Basal</text><text class="bl" x="1075" y="1116" font-size="11.5">Glycolysis</text>
<text class="bl" x="1168" y="1102" font-size="11.5">% PER</text><text class="bl" x="1168" y="1116" font-size="11.5">from</text><text class="bl" x="1168" y="1131" font-size="11.5">Glycolysis</text>
<text class="bl" x="1250" y="1102" font-size="11.5">Compensatory</text><text class="bl" x="1250" y="1116" font-size="11.5">Glycolysis</text>

<!-- H bars -->
<text x="1397" y="923" class="L">H</text>
<path class="ax" d="M1430 973V1080H1688M1426 973H1430M1426 999H1430M1426 1027H1430M1426 1053H1430M1426 1080H1430M1476 1080V1086M1563 1080V1086M1650 1080V1086"/>
<text class="tk" x="1425" y="975.5">200</text><text class="tk" x="1425" y="1001.5">150</text><text class="tk" x="1425" y="1029.5">100</text><text class="tk" x="1425" y="1055.5">50</text><text class="tk" x="1425" y="1082.5">0</text>
<text class="b" font-size="7" text-anchor="middle" transform="translate(1411,1027) rotate(-90)">OCR  pmol/min</text>
<rect class="b1" x="1446" y="1051" width="17" height="29"/><rect class="b2" x="1466" y="1047" width="17" height="33"/><rect class="b3" x="1487" y="1056" width="17" height="24"/>
<rect class="b1" x="1535" y="1034" width="17" height="46"/><rect class="b2" x="1554" y="1036" width="17" height="44"/><rect class="b3" x="1574" y="1034" width="17" height="46"/>
<rect class="b1" x="1621" y="1017" width="17" height="63"/><rect class="b2" x="1640" y="1016" width="17" height="64"/><rect class="b3" x="1661" y="1032" width="17" height="48"/>
<path class="eb" d="M1454.5 1040V1062M1451 1040H1458M1629.5 1000V1034M1626 1000H1633M1648.5 1010V1022M1669.5 1026V1036"/>
<g>
<circle class="d1" cx="1450" cy="1040" r="2.3"/><circle class="d1" cx="1458" cy="1048" r="2.3"/><circle class="d1" cx="1454" cy="1064" r="2.3"/>
<circle class="d2" cx="1470" cy="1046" r="2.3"/><circle class="d2" cx="1480" cy="1046" r="2.3"/><circle class="d2" cx="1475" cy="1049" r="2.3"/>
<circle class="d3" cx="1492" cy="1053" r="2.3"/><circle class="d3" cx="1500" cy="1055" r="2.3"/>
<circle class="d1" cx="1539" cy="1033" r="2.3"/><circle class="d1" cx="1548" cy="1034" r="2.3"/><circle class="d2" cx="1558" cy="1035" r="2.3"/><circle class="d2" cx="1567" cy="1036" r="2.3"/><circle class="d3" cx="1579" cy="1033" r="2.3"/><circle class="d3" cx="1587" cy="1034" r="2.3"/>
<circle class="d1" cx="1630" cy="1000" r="2.3"/><circle class="d1" cx="1626" cy="1025" r="2.3"/><circle class="d1" cx="1632" cy="1035" r="2.3"/><circle class="d1" cx="1636" cy="1012" r="2.3"/>
<circle class="d2" cx="1645" cy="1014" r="2.3"/><circle class="d2" cx="1653" cy="1012" r="2.3"/>
<circle class="d3" cx="1668" cy="1026" r="2.3"/><circle class="d3" cx="1674" cy="1030" r="2.3"/>
</g>
<path class="br" d="M1454 1021H1494M1544 1021H1582M1631 999V966H1670V973M1650 995V988H1670V1025"/>
<text class="ns" x="1474" y="1015">ns</text><text class="ns" x="1563" y="1015">ns</text>
<text class="s" x="1650.5" y="967">**</text><text class="s" x="1660" y="989">**</text>
<text class="bl" x="1448" y="1102" font-size="11.5">Basal</text><text class="bl" x="1448" y="1116" font-size="11.5">Glycolysis</text>
<text class="bl" x="1543" y="1102" font-size="11.5">% PER</text><text class="bl" x="1543" y="1116" font-size="11.5">from</text><text class="bl" x="1543" y="1131" font-size="11.5">Glycolysis</text>
<text class="bl" x="1624" y="1102" font-size="11.5">Compensatory</text><text class="bl" x="1624" y="1116" font-size="11.5">Glycolysis</text>

<!-- caption right -->
<text class="cap" x="1056" y="1205" textLength="810" lengthAdjust="spacingAndGlyphs">图 7 肌酸在白血病细胞中对氧化磷酸化和糖酵解的双重促进</text>
<text class="cap" x="1108" y="1270" textLength="262" lengthAdjust="spacingAndGlyphs">作用发挥关键作用.</text>
</svg>
</body></html>
